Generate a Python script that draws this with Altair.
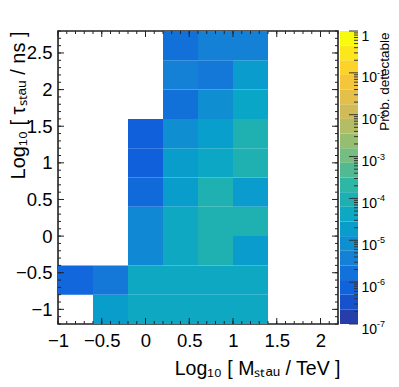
import altair as alt
import numpy as np
import pandas as pd

# ---------------- data ----------------
# bin lower edges (width 0.4) : log10(M_stau / TeV) and log10(tau_stau / ns)
mass_bins = [-1.0, -0.6, -0.2, 0.2, 0.6, 1.0, 1.4, 1.8]
tau_bins = [-1.2, -0.8, -0.4, 0.0, 0.4, 0.8, 1.2, 1.6, 2.0, 2.4]
bin_width = 0.4

# probability detectable, one list per tau row (bottom -> top), None = empty bin
prob_rows = [
    [None, 2.8e-5, 6.3e-5, 6.3e-5, 6.3e-5, 6.3e-5, None, None],
    [1.4e-6, 3.4e-6, 6.3e-5, 6.3e-5, 6.3e-5, 6.3e-5, None, None],
    [None, None, 8.5e-6, 6.3e-5, 1.5e-4, 2.6e-5, None, None],
    [None, None, 8.5e-6, 6.3e-5, 1.5e-4, 1.5e-4, None, None],
    [None, None, 1.6e-6, 2.8e-5, 1.5e-4, 2.6e-5, None, None],
    [None, None, 9.3e-7, 2.8e-5, 5.6e-5, 1.5e-4, None, None],
    [None, None, 9.3e-7, 1.2e-5, 3.2e-5, 1.5e-4, None, None],
    [None, None, None, 2.2e-6, 1.2e-5, 5.0e-5, None, None],
    [None, None, None, 5.6e-6, 3.4e-6, 2.6e-5, None, None],
    [None, None, None, 2.2e-6, 5.6e-6, 5.6e-6, None, None],
]

x_tick_labels = [-1, -0.5, 0, 0.5, 1, 1.5, 2]
y_tick_labels = [-1, -0.5, 0, 0.5, 1, 1.5, 2, 2.5]
cbar_tick_labels = [1e-7, 1e-6, 1e-5, 1e-4, 1e-3, 1e-2, 1e-1, 1]
cbar_exponents = ["-7", "-6", "-5", "-4", "-3", "-2", "-1"]

# ROOT kBird palette stops
bird_colors = ["#352a87", "#0f5cdd", "#1481d6", "#06a4ca", "#2eb7a4",
               "#87bf77", "#d1bb59", "#fec832", "#f9fb0e"]
n_contours = 20
z_min_exp, z_max_exp = -7, 0

# ---------------- tables ----------------
cells = []
for r, t in enumerate(tau_bins):
    for c, m in enumerate(mass_bins):
        p = prob_rows[r][c]
        if p is not None:
            cells.append({"m_lo": m, "m_hi": m + bin_width,
                          "t_lo": t, "t_hi": t + bin_width, "prob": p})
cells = pd.DataFrame(cells)

W, H = 280, 293
CB0, CB1 = W + 2, W + 20          # colour bar left / right (pixels)
FONT = "Liberation Sans"
TICK = "#222222"

color_scale = alt.Scale(
    type="log",
    domain=[10 ** (z_min_exp + (z_max_exp - z_min_exp) * i / 8) for i in range(9)],
    range=bird_colors, interpolate="rgb")

xscale = alt.Scale(domain=[-1.0, 2.2], nice=False, zero=False)
yscale = alt.Scale(domain=[-1.2, 2.8], nice=False, zero=False)

x_axis = alt.Axis(
    values=x_tick_labels, format="~g", ticks=False, domain=False, grid=False,
    labelFontSize=18.5, labelColor="black", labelPadding=7, labelFlush=False,
    labelFont=FONT,
    title="Log₁₀ [ Mₛₜₐᵤ / TeV ]", titleFontSize=19.5, titleFontWeight="normal",
    titleColor="black", titleFont=FONT, titleAnchor="end", titleAlign="right",
    titleX=W + 2, titleY=50, titleBaseline="alphabetic")
y_axis = alt.Axis(
    values=y_tick_labels, format="~g", ticks=False, domain=False, grid=False,
    labelFontSize=18.5, labelColor="black", labelPadding=6, labelFont=FONT,
    title="Log₁₀ [ τₛₜₐᵤ / ns ]", titleFontSize=20, titleFontWeight="normal",
    titleColor="black", titleFont=FONT, titleAngle=270, titleAlign="right",
    titleX=-34, titleY=0, titleBaseline="alphabetic")

heat = alt.Chart(cells).mark_rect(strokeWidth=0).encode(
    x=alt.X("m_lo:Q", scale=xscale, axis=x_axis),
    x2="m_hi:Q",
    y=alt.Y("t_lo:Q", scale=yscale, axis=y_axis),
    y2="t_hi:Q",
    color=alt.Color("prob:Q", scale=color_scale, legend=None),
)


def frame_ticks(values, side, length):
    d = pd.DataFrame({"v": values})
    base = alt.Chart(d).mark_rule(color=TICK, strokeWidth=1)
    if side == "bottom":
        enc = dict(x=alt.X("v:Q", scale=xscale, axis=x_axis), y=alt.value(H), y2=alt.value(H - length))
    elif side == "top":
        enc = dict(x=alt.X("v:Q", scale=xscale, axis=x_axis), y=alt.value(0), y2=alt.value(length))
    elif side == "left":
        enc = dict(y=alt.Y("v:Q", scale=yscale, axis=y_axis), x=alt.value(0), x2=alt.value(length))
    else:
        enc = dict(y=alt.Y("v:Q", scale=yscale, axis=y_axis), x=alt.value(W), x2=alt.value(W - length))
    return base.encode(**enc)


x_minor = [round(v, 1) for v in np.arange(-1.0, 2.21, 0.1)]
y_minor = [round(v, 1) for v in np.arange(-1.2, 2.81, 0.1)]

layers = [heat]
for side in ("bottom", "top"):
    layers.append(frame_ticks(x_tick_labels, side, 6))
    layers.append(frame_ticks(x_minor, side, 3))
for side in ("left", "right"):
    layers.append(frame_ticks(y_tick_labels, side, 6))
    layers.append(frame_ticks(y_minor, side, 3))
main = alt.layer(*layers)

# ---------------- colour bar ----------------
step = (z_max_exp - z_min_exp) / n_contours
bands = pd.DataFrame({
    "lo": [10 ** (z_min_exp + step * k) for k in range(n_contours)],
    "hi": [10 ** (z_min_exp + step * (k + 1)) for k in range(n_contours)],
})
bands["c"] = bands["hi"]

cscale = alt.Scale(type="log", domain=[1e-7, 1], nice=False)
c_axis = alt.Axis(
    orient="right", offset=CB1 - W, values=cbar_tick_labels, ticks=False, domain=False,
    grid=False, labelExpr="datum.value > 0.5 ? '1' : '10'", labelOffset=5,
    labelFontSize=14, labelColor="black", labelPadding=3, labelFont=FONT,
    labelOverlap=False,
    title="Prob. detectable", titleFontSize=13.5, titleFontWeight="normal",
    titleColor="black", titleFont=FONT, titleAngle=270, titleAlign="right",
    titleX=30, titleY=1, titleBaseline="alphabetic")
cbar = alt.Chart(bands).mark_rect(strokeWidth=0).encode(
    x=alt.value(CB0), x2=alt.value(CB1),
    y=alt.Y("lo:Q", scale=cscale, axis=c_axis),
    y2="hi:Q",
    color=alt.Color("c:Q", scale=color_scale, legend=None),
)

major_cb = pd.DataFrame({"v": cbar_tick_labels})
minor_cb = pd.DataFrame({"v": [m * 10 ** e for e in range(-7, 0) for m in range(2, 10)]})
cb_major = alt.Chart(major_cb).mark_rule(color="#333333", strokeWidth=1).encode(
    y=alt.Y("v:Q", scale=cscale, axis=c_axis), x=alt.value(CB1 - 9), x2=alt.value(CB1))
cb_minor = alt.Chart(minor_cb).mark_rule(color="#333333", strokeWidth=1).encode(
    y=alt.Y("v:Q", scale=cscale, axis=c_axis), x=alt.value(CB1 - 4), x2=alt.value(CB1))
sup_df = pd.DataFrame({"v": cbar_tick_labels[:-1], "e": cbar_exponents})
cb_sup = alt.Chart(sup_df).mark_text(
    align="left", baseline="middle", fontSize=9, font=FONT, color="black"
).encode(y=alt.Y("v:Q", scale=cscale, axis=c_axis), x=alt.value(CB1 + 19), text="e:N")

colorbar = alt.layer(cbar, cb_major, cb_minor, cb_sup)

chart = alt.layer(main, colorbar).resolve_scale(y="independent").properties(
    width=W, height=H,
    autosize=alt.AutoSizeParams(type="none"),
    padding={"left": 50, "top": 23, "right": 53, "bottom": 55},
    view=alt.ViewBackground(stroke="#222222", strokeWidth=1.6),
).configure(font=FONT, background="white")

chart.save("out.html", embed_options={"renderer": "svg", "actions": False})
